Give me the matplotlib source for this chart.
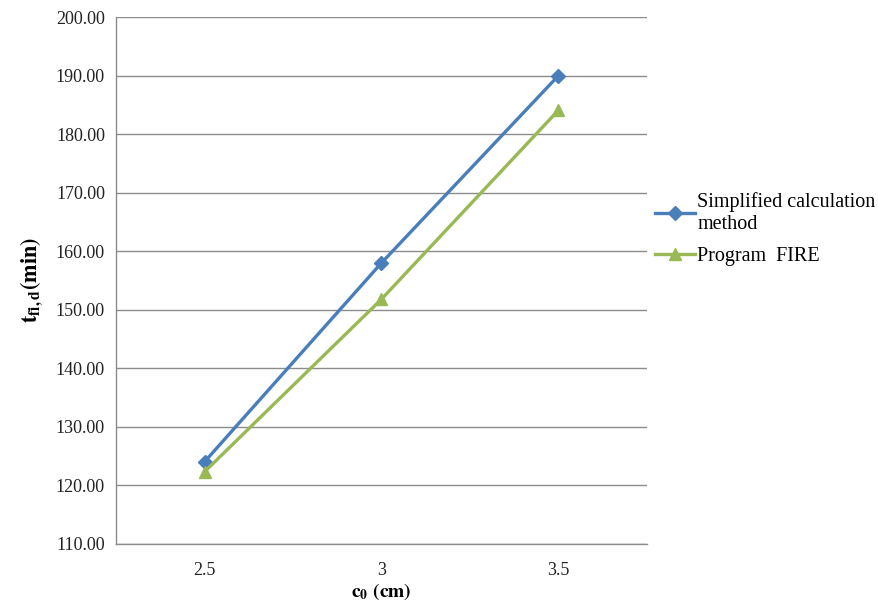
import matplotlib.pyplot as plt

plt.rcParams['font.family'] = ['Liberation Serif', 'DejaVu Serif']
plt.rcParams['mathtext.fontset'] = 'stix'

# cover thickness vs. fire resistance time
categories = ['2.5', '3', '3.5']
simplified = [124.0, 158.0, 190.0]
fire_prog = [122.3, 151.8, 184.1]
y_ticks = [110, 120, 130, 140, 150, 160, 170, 180, 190, 200]

fig = plt.figure(figsize=(8.79, 6.11), dpi=100)
ax = fig.add_axes([0.132, 0.110, 0.604, 0.862])

x = range(len(categories))
ax.plot(x, simplified, color='#4A7EBB', linewidth=2.4, marker='D', markersize=7,
        label='Simplified calculation\nmethod')
ax.plot(x, fire_prog, color='#98B954', linewidth=2.4, marker='^', markersize=9,
        label='Program  FIRE')

ax.set_xlim(-0.5, 2.5)
ax.set_ylim(110, 200)
ax.set_xticks(list(x))
ax.set_xticklabels(categories)
ax.set_yticks(y_ticks)
ax.set_yticklabels(['%.2f' % v for v in y_ticks])
ax.tick_params(length=0, labelsize=13, colors='#222222', pad=8)
ax.tick_params(axis='x', pad=13)

ax.grid(axis='y', color='#8C8C8C', linewidth=1.0)
ax.set_axisbelow(True)
for s in ['top', 'right']:
    ax.spines[s].set_visible(False)
for s in ['left', 'bottom']:
    ax.spines[s].set_color('#8C8C8C')
    ax.spines[s].set_linewidth(1.0)

ax.set_xlabel(r'$\mathbf{c_0}$ $\mathbf{(cm)}$', fontsize=14, labelpad=2)
ax.set_ylabel(r'$\mathbf{t_{fi,d}(min)}$', fontsize=16, labelpad=8)

fig.legend(loc='upper left', bbox_to_anchor=(0.736, 0.698), frameon=False,
           fontsize=14.5, handlelength=2.0, handletextpad=0.1, labelspacing=0.65,
           borderaxespad=0)

plt.savefig('out.png')
